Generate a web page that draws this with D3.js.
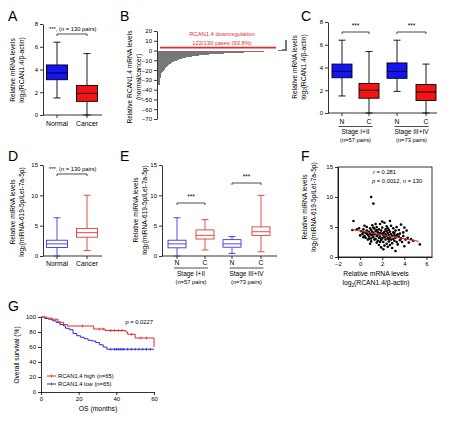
<!DOCTYPE html>
<html><head><meta charset="utf-8">
<script src="https://cdn.jsdelivr.net/npm/d3@7"></script>
<style>body{margin:0;background:#fff}svg{display:block}text{font-family:"Liberation Sans",Arial,sans-serif}</style>
</head><body>
<svg id="c" width="450" height="422"></svg>
<script>
// ---------- DATA ----------
const catsA = ["Normal", "Cancer"];
const statsA = [[1.5, 3.1, 3.7, 4.4, 6.4], [0, 1.2, 1.9, 2.6, 5.4]]; // min,q1,med,q3,max
const ticksA = [0, 2, 4, 6, 8];

const waterfallB = [
  -35,-28,-23,-21.5,-20.5,-19.5,-18.5,-17.5,-16.5,-15.5,
  -14.8,-14,-13.3,-12.7,-12.1,-11.6,-11.1,-10.6,-10.2,-9.8,
  -9.4,-9.0,-8.7,-8.4,-8.1,-7.8,-7.5,-7.3,-7.1,-6.9,
  -6.7,-6.5,-6.3,-6.1,-5.9,-5.8,-5.6,-5.5,-5.3,-5.2,
  -5.1,-5.0,-4.9,-4.8,-4.7,-4.6,-4.5,-4.4,-4.3,-4.2,
  -4.1,-4.0,-3.9,-3.85,-3.8,-3.7,-3.65,-3.6,-3.5,-3.45,
  -3.4,-3.3,-3.25,-3.2,-3.1,-3.05,-3.0,-2.95,-2.9,-2.85,
  -2.8,-2.75,-2.7,-2.65,-2.6,-2.55,-2.5,-2.45,-2.4,-2.35,
  -2.3,-2.25,-2.2,-2.15,-2.1,-2.05,-2.0,-1.95,-1.9,-1.85,
  -1.8,-1.75,-1.7,-1.65,-1.6,-1.55,-1.5,-1.45,-1.4,-1.35,
  -1.3,-1.25,-1.2,-1.15,-1.1,-1.05,-1.0,-0.95,-0.9,-0.85,
  -0.8,-0.7,-0.6,-0.5,-0.4,-0.3,-0.2,-0.15,-0.1,-0.05,
  -0.03,-0.01,
  0.3,0.5,0.8,1.0,1.3,1.6,2.0,11
];
const downLineB = 3;
const ticksB = [20,10,0,-10,-20,-30,-40,-50,-60,-70];

const catsC = ["N1", "C1", "N2", "C2"];
const labelsC = ["N", "C", "N", "C"];
const statsC = [[1.5, 3.1, 3.65, 4.3, 6.4], [0, 1.3, 2.0, 2.6, 5.4], [1.9, 3.05, 3.65, 4.4, 6.4], [0, 1.1, 1.85, 2.5, 4.3]];
const stageLabels = ["Stage I+II", "Stage III+IV"];
const stageN = ["(n=57 pairs)", "(n=73 pairs)"];

const catsD = ["Normal", "Cancer"];
const statsD = [[0, 1.4, 2.0, 2.6, 6.3], [0.9, 3.1, 3.85, 4.55, 10.0]];
const ticksD = [0, 5, 10, 15];

const statsE = [[0, 1.35, 2.0, 2.6, 6.3], [1.0, 2.8, 3.4, 4.3, 6.0], [0.4, 1.45, 2.0, 2.7, 3.2], [0.7, 3.4, 4.0, 4.8, 10.0]];

const pointsF = [
  [1.0,10.0],[1.2,8.9],[-0.6,6.0],[5.4,2.1],[3.2,1.0],[-0.7,4.5],[-0.3,4.6],[-0.1,4.8],[0.1,4.3],[0.3,4.1],
  [0.2,3.8],[0.3,4.6],[0.4,3.5],[0.5,4.0],[0.5,3.2],[0.6,4.4],[0.6,5.0],[0.7,3.7],[0.7,2.9],[0.8,4.2],
  [0.8,3.4],[0.9,4.8],[0.9,3.9],[1.0,3.1],[1.0,4.5],[1.0,2.6],[1.1,3.6],[1.1,5.3],[1.2,4.0],[1.2,3.3],
  [1.3,4.7],[1.3,2.9],[1.3,3.8],[1.4,4.3],[1.4,3.0],[1.5,5.0],[1.5,3.5],[1.5,2.4],[1.6,4.1],[1.6,3.7],
  [1.7,4.6],[1.7,3.2],[1.7,2.0],[1.8,4.0],[1.8,5.5],[1.8,3.4],[1.9,1.6],[1.9,4.4],[1.9,2.8],[2.0,3.9],
  [2.0,3.1],[2.0,4.9],[2.1,3.6],[2.1,2.5],[2.1,1.3],[2.2,4.2],[2.2,3.3],[2.2,5.7],[2.3,3.8],[2.3,2.9],
  [2.3,4.6],[2.4,3.5],[2.4,2.2],[2.4,5.1],[2.5,4.0],[2.5,3.1],[2.5,1.7],[2.6,3.7],[2.6,4.5],[2.6,2.6],
  [2.7,6.0],[2.7,3.3],[2.7,4.2],[2.8,2.9],[2.8,3.8],[2.8,5.2],[2.9,3.5],[2.9,2.3],[3.0,4.1],[3.0,3.0],
  [3.0,4.8],[3.1,3.6],[3.1,2.7],[3.2,4.4],[3.2,3.2],[3.3,2.5],[3.3,5.0],[3.4,3.8],[3.4,2.1],[3.5,3.4],
  [3.5,4.5],[3.6,2.8],[3.7,3.1],[3.7,5.4],[3.8,2.5],[3.9,3.5],[4.0,1.8],[4.0,4.9],[4.1,2.9],[4.2,4.4],
  [4.3,3.2],[4.4,2.4],[4.6,3.0],[4.8,2.7],[3.9,4.1],[2.0,5.9],[1.4,5.5],[0.4,5.2],[0.0,3.6],[0.8,3.0],
  [1.6,2.7],[2.2,1.9],[2.9,1.5],[1.2,4.9],[0.6,3.9],[1.9,3.0],[2.5,4.8],[3.6,3.9],[1.0,3.7],[2.7,2.0],
  [3.3,3.6],[1.5,4.5],[2.1,4.0],[0.3,3.3],[2.4,4.3],[1.8,2.5],[3.1,4.0],[2.6,3.0],[1.1,4.2],[0.9,2.2]
];
const fitF = [[-0.8, 4.6], [5.3, 2.6]];
const ticksFx = [-2, 0, 2, 4, 6];
const ticksFy = [0, 5, 10, 15];

const kmHigh = [[0,100],[3,98.5],[6,97],[9,93],[12,90],[14,88],[28,84],[34,82],[45,80],[46,77],[50,72],[60,60]];
const kmHighCens = [[10,93],[22,88],[31,84],[33,84],[37,82],[39,82],[41,82],[43,82],[48,77],[53,72],[56,72]];
const kmLow = [[0,100],[2,98],[4,97],[6,95],[8,93],[10,90],[12,88],[13,85],[15,83],[17,78],[19,75],[21,73],[23,71],[25,69],[27,68],[29,66],[31,63],[33,60],[35,57],[60,57]];
const kmLowCens = [[37,57],[39,57],[40,57],[41,57],[42,57],[43,57],[44,57],[46,57],[48,57],[50,57],[52,57],[54,57],[56,57],[58,57]];
const ticksGx = [0, 20, 40, 60];
const ticksGy = [0, 20, 40, 60, 80, 100];

// ---------- HELPERS ----------
const svg = d3.select("#c");
const BLUE = "#1414f5", RED = "#f51414", OBLUE = "#3a3ad6", ORED = "#e03a3a";
const TF = 6, LF = 6.6;

function letter(t, x, y) {
  svg.append("text").attr("x", x).attr("y", y).attr("font-size", 14).text(t);
}
function yAxis(scale, x, ticks) {
  const g = svg.append("g").attr("transform", `translate(${x},0)`)
    .call(d3.axisLeft(scale).tickValues(ticks).tickSize(3).tickSizeOuter(0).tickPadding(2));
  g.selectAll("text").attr("font-size", TF).attr("font-family", null);
  g.selectAll("path,line").attr("stroke", "#000").attr("stroke-width", 0.8);
  return g;
}
function xAxisLine(y, x0, x1, tickXs) {
  svg.append("line").attr("x1", x0).attr("x2", x1).attr("y1", y).attr("y2", y).attr("stroke", "#000").attr("stroke-width", 0.8);
  tickXs.forEach(tx => svg.append("line").attr("x1", tx).attr("x2", tx).attr("y1", y).attr("y2", y + 3).attr("stroke", "#000").attr("stroke-width", 0.8));
}
function rotLabel(x, cy, line1, pre, inner) {
  const t = svg.append("text").attr("transform", `translate(${x},${cy}) rotate(-90)`)
    .attr("text-anchor", "middle").attr("font-size", LF);
  t.text(line1);
  const t2 = svg.append("text").attr("transform", `translate(${x + 8.5},${cy}) rotate(-90)`)
    .attr("text-anchor", "middle").attr("font-size", LF);
  if (pre) {
    t2.append("tspan").text(pre);
    t2.append("tspan").attr("font-size", 4.5).attr("dy", 1.5).text("2");
    t2.append("tspan").attr("dy", -1.5).text(inner);
  } else t2.text(inner);
}
function box(cx, y, s, w, fill, stroke) {
  const g = svg.append("g");
  const cap = 7;
  g.append("line").attr("x1", cx).attr("x2", cx).attr("y1", y(s[0])).attr("y2", y(s[1])).attr("stroke", stroke).attr("stroke-width", 0.9);
  g.append("line").attr("x1", cx).attr("x2", cx).attr("y1", y(s[3])).attr("y2", y(s[4])).attr("stroke", stroke).attr("stroke-width", 0.9);
  [s[0], s[4]].forEach(v => g.append("line").attr("x1", cx - cap / 2).attr("x2", cx + cap / 2).attr("y1", y(v)).attr("y2", y(v)).attr("stroke", stroke).attr("stroke-width", 0.9));
  g.append("rect").attr("x", cx - w / 2).attr("width", w).attr("y", y(s[3])).attr("height", y(s[1]) - y(s[3]))
    .attr("fill", fill).attr("stroke", stroke).attr("stroke-width", 0.9);
  g.append("line").attr("x1", cx - w / 2).attr("x2", cx + w / 2).attr("y1", y(s[2])).attr("y2", y(s[2])).attr("stroke", stroke).attr("stroke-width", 0.9);
}
function bracket(x0, x1, y) {
  svg.append("path").attr("d", `M${x0},${y + 2}V${y}H${x1}V${y + 2}`).attr("fill", "none").attr("stroke", "#000").attr("stroke-width", 0.7);
}
function txt(x, y, s, size, anchor, color) {
  return svg.append("text").attr("x", x).attr("y", y).attr("font-size", size).attr("text-anchor", anchor || "start").attr("fill", color || "#000").text(s);
}

// ---------- PANEL A ----------
letter("A", 8, 21);
{
  const y = d3.scaleLinear().domain([0, 8]).range([115, 24]);
  const x = d3.scalePoint().domain(catsA).range([57, 87]);
  yAxis(y, 43, ticksA);
  xAxisLine(115, 43, 102, catsA.map(x));
  const fills = [BLUE, RED];
  catsA.forEach((c, i) => box(x(c), y, statsA[i], 21, fills[i], "#000"));
  catsA.forEach(c => txt(x(c), 126, c, 6.8, "middle"));
  txt(49, 31, "***, (n = 130 pairs)", 5.8);
  bracket(x(catsA[0]), x(catsA[1]), 34);
  rotLabel(15, 70, "Relative mRNA levels", "log", "(RCAN1.4/β-actin)");
}

// ---------- PANEL B ----------
letter("B", 120, 21);
{
  const y = d3.scaleLinear().domain([-70, 20]).range([119, 31]);
  const x = d3.scaleBand().domain(d3.range(waterfallB.length)).range([158, 286]).padding(0);
  svg.append("g").attr("shape-rendering", "crispEdges").selectAll("rect").data(waterfallB).join("rect")
    .attr("x", (d, i) => x(i)).attr("width", x.bandwidth() + 0.6)
    .attr("y", d => y(Math.max(0, d))).attr("height", d => Math.max(0.8, Math.abs(y(d) - y(0))))
    .attr("fill", "#777");
  yAxis(y, 157, ticksB);
  svg.append("line").attr("x1", 160).attr("x2", 276).attr("y1", y(downLineB)).attr("y2", y(downLineB)).attr("stroke", "#e8282a").attr("stroke-width", 1.8);
  txt(222, 36, "RCAN1.4 downregulation", 5.8, "middle", "#d83030");
  txt(222, 45, "122/130 cases (93.8%)", 5.8, "middle", "#d83030");
  rotLabel(132, 77, "Relative RCAN1.4 mRNA levels", null, "(normal/cancer)");
}

// ---------- PANEL C ----------
letter("C", 301, 21);
{
  const y = d3.scaleLinear().domain([0, 8]).range([113, 22]);
  const x = d3.scaleOrdinal().domain(catsC).range([342, 369, 397, 426]);
  yAxis(y, 328, ticksA);
  xAxisLine(113, 328, 437, catsC.map(x));
  catsC.forEach((c, i) => box(x(c), y, statsC[i], 20, i % 2 ? RED : BLUE, "#000"));
  catsC.forEach((c, i) => txt(x(c), 124, labelsC[i], 6.8, "middle"));
  [0, 1].forEach(g => {
    const a = x(catsC[2 * g]), b = x(catsC[2 * g + 1]), m = (a + b) / 2;
    svg.append("line").attr("x1", m - 17).attr("x2", m + 17).attr("y1", 126.5).attr("y2", 126.5).attr("stroke", "#000").attr("stroke-width", 0.7);
    txt(m, 133.5, stageLabels[g], 6.5, "middle");
    txt(m, 141.5, stageN[g], 5.8, "middle");
    txt(m, 28, "***", 6.5, "middle");
    bracket(a, b, 32);
  });
  rotLabel(297, 67, "Relative mRNA levels", "log", "(RCAN1.4/β-actin)");
}

// ---------- PANEL D ----------
letter("D", 8, 161);
{
  const y = d3.scaleLinear().domain([0, 15]).range([256, 165]);
  const x = d3.scalePoint().domain(catsD).range([57, 87]);
  yAxis(y, 43, ticksD);
  xAxisLine(256, 43, 102, catsD.map(x));
  const strokes = [OBLUE, ORED];
  catsD.forEach((c, i) => box(x(c), y, statsD[i], 21, "#fff", strokes[i]));
  catsD.forEach(c => txt(x(c), 266, c, 6.8, "middle"));
  txt(49, 171, "***, (n = 130 pairs)", 5.8);
  bracket(x(catsD[0]), x(catsD[1]), 174);
  rotLabel(15, 212, "Relative miRNA levels", "log", "(miRNA-619-5p/Let-7a-5p)");
}

// ---------- PANEL E ----------
letter("E", 120, 161);
{
  const y = d3.scaleLinear().domain([0, 15]).range([256, 165]);
  const x = d3.scaleOrdinal().domain(catsC).range([177, 205, 232, 261]);
  yAxis(y, 162, ticksD);
  xAxisLine(256, 162, 277, catsC.map(x));
  catsC.forEach((c, i) => box(x(c), y, statsE[i], 18, "#fff", i % 2 ? ORED : OBLUE));
  catsC.forEach((c, i) => txt(x(c), 264.5, labelsC[i], 6.8, "middle"));
  const starY = [199, 179];
  [0, 1].forEach(g => {
    const a = x(catsC[2 * g]), b = x(catsC[2 * g + 1]), m = (a + b) / 2;
    svg.append("line").attr("x1", m - 17).attr("x2", m + 17).attr("y1", 268).attr("y2", 268).attr("stroke", "#000").attr("stroke-width", 0.7);
    txt(m, 275.5, stageLabels[g], 6.5, "middle");
    txt(m, 283.5, stageN[g], 5.8, "middle");
    txt(m, starY[g], "***", 6.5, "middle");
    bracket(a, b, starY[g] + 4);
  });
  rotLabel(138, 210, "Relative miRNA levels", "log", "(miRNA-619-5p/Let-7a-5p)");
}

// ---------- PANEL F ----------
letter("F", 301, 161);
{
  const x = d3.scaleLinear().domain([-2, 6.5]).range([338, 432]);
  const y = d3.scaleLinear().domain([0, 15]).range([257, 167]);
  svg.append("rect").attr("x", 338).attr("y", 167).attr("width", 94).attr("height", 90).attr("fill", "none").attr("stroke", "#000").attr("stroke-width", 0.8);
  yAxis(y, 338, ticksFy);
  const gx = svg.append("g").attr("transform", "translate(0,257)")
    .call(d3.axisBottom(x).tickValues(ticksFx).tickSize(3).tickSizeOuter(0).tickPadding(2));
  gx.selectAll("text").attr("font-size", TF).attr("font-family", null);
  gx.selectAll("path,line").attr("stroke", "#000").attr("stroke-width", 0.8);
  svg.append("g").selectAll("circle").data(pointsF).join("circle")
    .attr("cx", d => x(d[0])).attr("cy", d => y(d[1])).attr("r", 1.3).attr("fill", "#000");
  svg.append("line").attr("x1", x(fitF[0][0])).attr("y1", y(fitF[0][1])).attr("x2", x(fitF[1][0])).attr("y2", y(fitF[1][1]))
    .attr("stroke", "#e02020").attr("stroke-width", 1);
  const t1 = txt(373, 174, "", 5.8);
  t1.append("tspan").attr("font-style", "italic").text("r");
  t1.append("tspan").text(" = 0.281");
  const t2 = txt(372, 183, "", 5.8);
  t2.append("tspan").attr("font-style", "italic").text("p");
  t2.append("tspan").text(" = 0.0012, n = 130");
  txt(376, 276, "Relative mRNA levels", 6.8, "middle");
  const t3 = txt(376, 285, "", 6.8, "middle");
  t3.append("tspan").text("log");
  t3.append("tspan").attr("font-size", 4.5).attr("dy", 1.5).text("2");
  t3.append("tspan").attr("dy", -1.5).text("(RCAN1.4/β-actin)");
  rotLabel(307, 207, "Relative miRNA levels", "log", "(miRNA-619-5p/Let-7a-5p)");
}

// ---------- PANEL G ----------
letter("G", 8, 311);
{
  const x = d3.scaleLinear().domain([0, 60]).range([41, 154]);
  const y = d3.scaleLinear().domain([0, 100]).range([392, 317]);
  yAxis(y, 41, ticksGy);
  const gx = svg.append("g").attr("transform", "translate(0,392)")
    .call(d3.axisBottom(x).tickValues(ticksGx).tickSize(3).tickSizeOuter(0).tickPadding(2));
  gx.selectAll("text").attr("font-size", TF).attr("font-family", null);
  gx.selectAll("path,line").attr("stroke", "#000").attr("stroke-width", 0.8);
  const line = d3.line().x(d => x(d[0])).y(d => y(d[1])).curve(d3.curveStepAfter);
  [[kmLow, kmLowCens, "#2a2ad8"], [kmHigh, kmHighCens, "#e02828"]].forEach(([d, cens, col]) => {
    svg.append("path").attr("d", line(d)).attr("fill", "none").attr("stroke", col).attr("stroke-width", 1);
    svg.append("g").selectAll("line").data(cens).join("line")
      .attr("x1", c => x(c[0])).attr("x2", c => x(c[0])).attr("y1", c => y(c[1]) - 1.3).attr("y2", c => y(c[1]) + 1.3)
      .attr("stroke", col).attr("stroke-width", 0.9);
  });
  const tp = txt(153, 324, "", 5.8, "end");
  tp.append("tspan").attr("font-style", "italic").text("p");
  tp.append("tspan").text(" = 0.0227");
  const leg = [["RCAN1.4 high (n=65)", "#e02828", 376], ["RCAN1.4 low (n=65)", "#2a2ad8", 384]];
  leg.forEach(([l, col, ly]) => {
    svg.append("line").attr("x1", 47).attr("x2", 56).attr("y1", ly).attr("y2", ly).attr("stroke", col).attr("stroke-width", 1);
    svg.append("line").attr("x1", 51.5).attr("x2", 51.5).attr("y1", ly - 1.3).attr("y2", ly + 1.3).attr("stroke", col).attr("stroke-width", 0.9);
    txt(58, ly + 2, l, 5.8);
  });
  txt(98, 411, "OS (months)", 6.8, "middle");
  svg.append("text").attr("transform", "translate(19,355) rotate(-90)").attr("text-anchor", "middle").attr("font-size", LF).text("Overall survival (%)");
}
</script>
</body></html>
